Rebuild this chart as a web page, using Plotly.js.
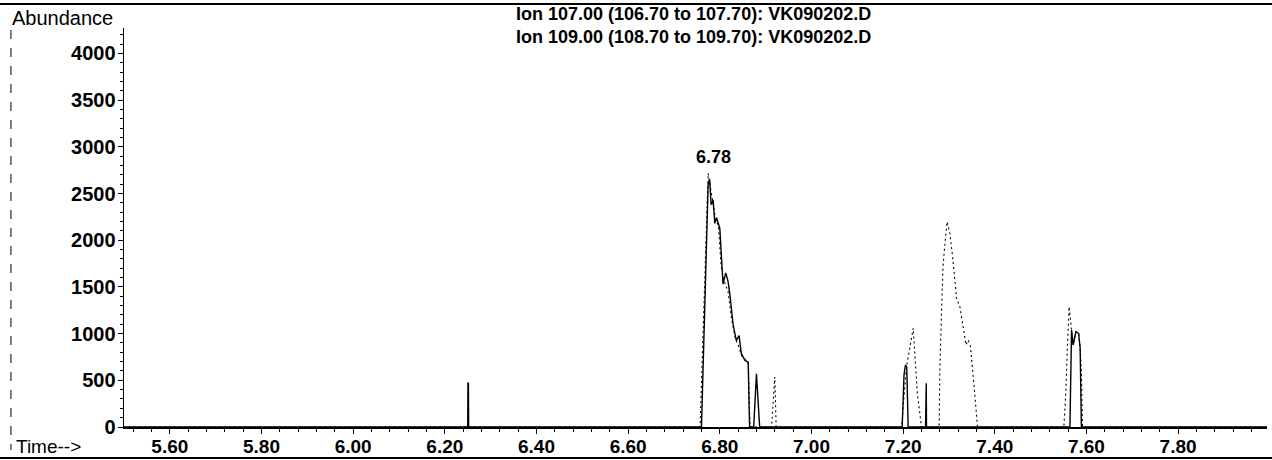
<!DOCTYPE html>
<html>
<head>
<meta charset="utf-8">
<script src="https://cdn.plot.ly/plotly-3.0.1.min.js"></script>
<style>
  html, body { margin: 0; padding: 0; background: #ffffff; }
  #chart { width: 1272px; height: 460px; }
</style>
</head>
<body>
<div id="chart"></div>
<script>
// ---- Data (retention time in min, abundance) ----
const ion107Time = [5.50, 6.2500, 6.2505, 6.2515, 6.2520, 6.760, 6.7746, 6.778, 6.781, 6.7855, 6.789, 6.793, 6.800, 6.804, 6.807, 6.813, 6.818, 6.822, 6.829, 6.836, 6.842, 6.847, 6.855, 6.862, 6.865, 6.874, 6.880, 6.887, 7.198, 7.202, 7.205, 7.208, 7.211, 7.2490, 7.2495, 7.2505, 7.2510, 7.564, 7.5675, 7.571, 7.577, 7.583, 7.5863, 7.589, 7.994];
const ion107Abund = [0, 0, 470, 470, 0, 0, 2600, 2650, 2380, 2430, 2180, 2240, 2130, 1705, 1530, 1650, 1560, 1420, 1100, 925, 980, 785, 713, 695, 0, 0, 571, 0, 0, 560, 664, 640, 0, 0, 468, 468, 0, 0, 1039, 878, 1020, 1003, 843, 0, 0];

const ion109Time = [5.50, 6.757, 6.7746, 6.780, 6.785, 6.790, 6.797, 6.803, 6.810, 6.818, 6.826, 6.834, 6.840, 6.848, 6.856, 6.862, 6.866, 6.913, 6.918, 6.920, 6.923, 7.197, 7.200, 7.2075, 7.222, 7.2256, 7.231, 7.2365, 7.240, 7.2787, 7.280, 7.284, 7.287, 7.291, 7.296, 7.302, 7.308, 7.3166, 7.3238, 7.331, 7.337, 7.342, 7.347, 7.355, 7.360, 7.3624, 7.5507, 7.555, 7.558, 7.5623, 7.5675, 7.571, 7.577, 7.583, 7.5863, 7.589, 7.5915, 7.994];
const ion109Abund = [0, 0, 2716, 2560, 2420, 2250, 2150, 1720, 1560, 1450, 1150, 950, 880, 760, 720, 690, 0, 0, 380, 535, 0, 0, 217, 646, 1057, 789, 361, 147, 0, 0, 575, 1253, 1716, 1949, 2198, 2074, 1823, 1378, 1288, 1074, 878, 931, 860, 431, 57, 0, 0, 361, 789, 1288, 1039, 878, 1020, 1003, 843, 575, 0, 0];

const xTickVals = [5.6, 5.8, 6.0, 6.2, 6.4, 6.6, 6.8, 7.0, 7.2, 7.4, 7.6, 7.8];
const xTickText = ['5.60', '5.80', '6.00', '6.20', '6.40', '6.60', '6.80', '7.00', '7.20', '7.40', '7.60', '7.80'];
const yTickVals = [0, 500, 1000, 1500, 2000, 2500, 3000, 3500, 4000];
const yTickText = ['0', '500', '1000', '1500', '2000', '2500', '3000', '3500', '4000'];

const titleLines = ['Ion 107.00 (106.70 to 107.70): VK090202.D', 'Ion 109.00 (108.70 to 109.70): VK090202.D'];
const peakLabelTime = 6.78;
const peakLabelText = '6.78';

// ---- Traces ----
const traces = [
  {
    x: ion107Time, y: ion107Abund, type: 'scatter', mode: 'lines',
    name: 'Ion 107.00', line: { color: '#000000', width: 1.4 }, hoverinfo: 'skip'
  },
  {
    x: ion109Time, y: ion109Abund, type: 'scatter', mode: 'lines',
    name: 'Ion 109.00', line: { color: '#000000', width: 1.1, dash: '2px,3px' }, hoverinfo: 'skip'
  }
];

const FONT = 'Liberation Sans, Arial, sans-serif';

const layout = {
  width: 1272, height: 460,
  margin: { l: 124, r: 5, t: 28, b: 33 },
  paper_bgcolor: '#ffffff', plot_bgcolor: '#ffffff',
  showlegend: false,
  font: { family: FONT, color: '#000000' },
  xaxis: {
    range: [5.50, 7.994], showgrid: false, zeroline: false,
    showline: true, linecolor: '#000000', linewidth: 1.6,
    tickmode: 'array', tickvals: xTickVals, ticktext: xTickText,
    ticks: 'outside', ticklen: 5, tickwidth: 1, tickcolor: '#000000',
    ticklabelstandoff: -3,
    tickfont: { family: FONT, size: 19, color: '#000000', weight: 'bold' },
    minor: { ticks: 'outside', ticklen: 3, tickwidth: 1, tickcolor: '#000000', tick0: 5.6, dtick: 0.04, showgrid: false }
  },
  yaxis: {
    range: [0, 4272], showgrid: false, zeroline: false,
    showline: true, linecolor: '#000000', linewidth: 1.4,
    tickmode: 'array', tickvals: yTickVals, ticktext: yTickText,
    ticks: 'outside', ticklen: 5, tickwidth: 1, tickcolor: '#000000',
    ticklabelstandoff: -2,
    tickfont: { family: FONT, size: 20, color: '#000000', weight: 'bold' },
    minor: { ticks: 'outside', ticklen: 3, tickwidth: 1, tickcolor: '#000000', tick0: 0, dtick: 100, showgrid: false }
  },
  annotations: [
    { xref: 'paper', yref: 'paper', x: -0.0997, y: 1.026, xanchor: 'left', yanchor: 'middle',
      text: 'Abundance', showarrow: false, font: { family: FONT, size: 20, color: '#000000' } },
    { xref: 'paper', yref: 'paper', x: 0.4982, y: 1.0065, xanchor: 'center', yanchor: 'middle',
      text: titleLines.join('<br>'), showarrow: false,
      font: { family: FONT, size: 18, color: '#000000', weight: 'bold' } },
    { xref: 'paper', yref: 'paper', x: -0.0962, y: -0.0489, xanchor: 'left', yanchor: 'middle',
      text: 'Time-->', showarrow: false, font: { family: FONT, size: 19, color: '#000000' } },
    { xref: 'x', yref: 'y', x: peakLabelTime, y: 2891, xanchor: 'center', yanchor: 'middle', xshift: 3,
      text: peakLabelText, showarrow: false, font: { family: FONT, size: 18, color: '#000000', weight: 'bold' } }
  ],
  shapes: [
    { type: 'line', xref: 'paper', yref: 'paper', x0: -0.1085, x1: 1.0044, y0: 1.0602, y1: 1.0602,
      line: { color: '#000000', width: 2 } },
    { type: 'line', xref: 'paper', yref: 'paper', x0: -0.1085, x1: 1.0044, y0: -0.0777, y1: -0.0777,
      line: { color: '#000000', width: 2 } },
    { type: 'line', xref: 'paper', yref: 'paper', x0: -0.0989, x1: -0.0989, y0: 0.995, y1: -0.0576,
      line: { color: '#000000', width: 1, dash: 'dash' } }
  ]
};

Plotly.newPlot('chart', traces, layout, { displayModeBar: false, staticPlot: true });
</script>
</body>
</html>
